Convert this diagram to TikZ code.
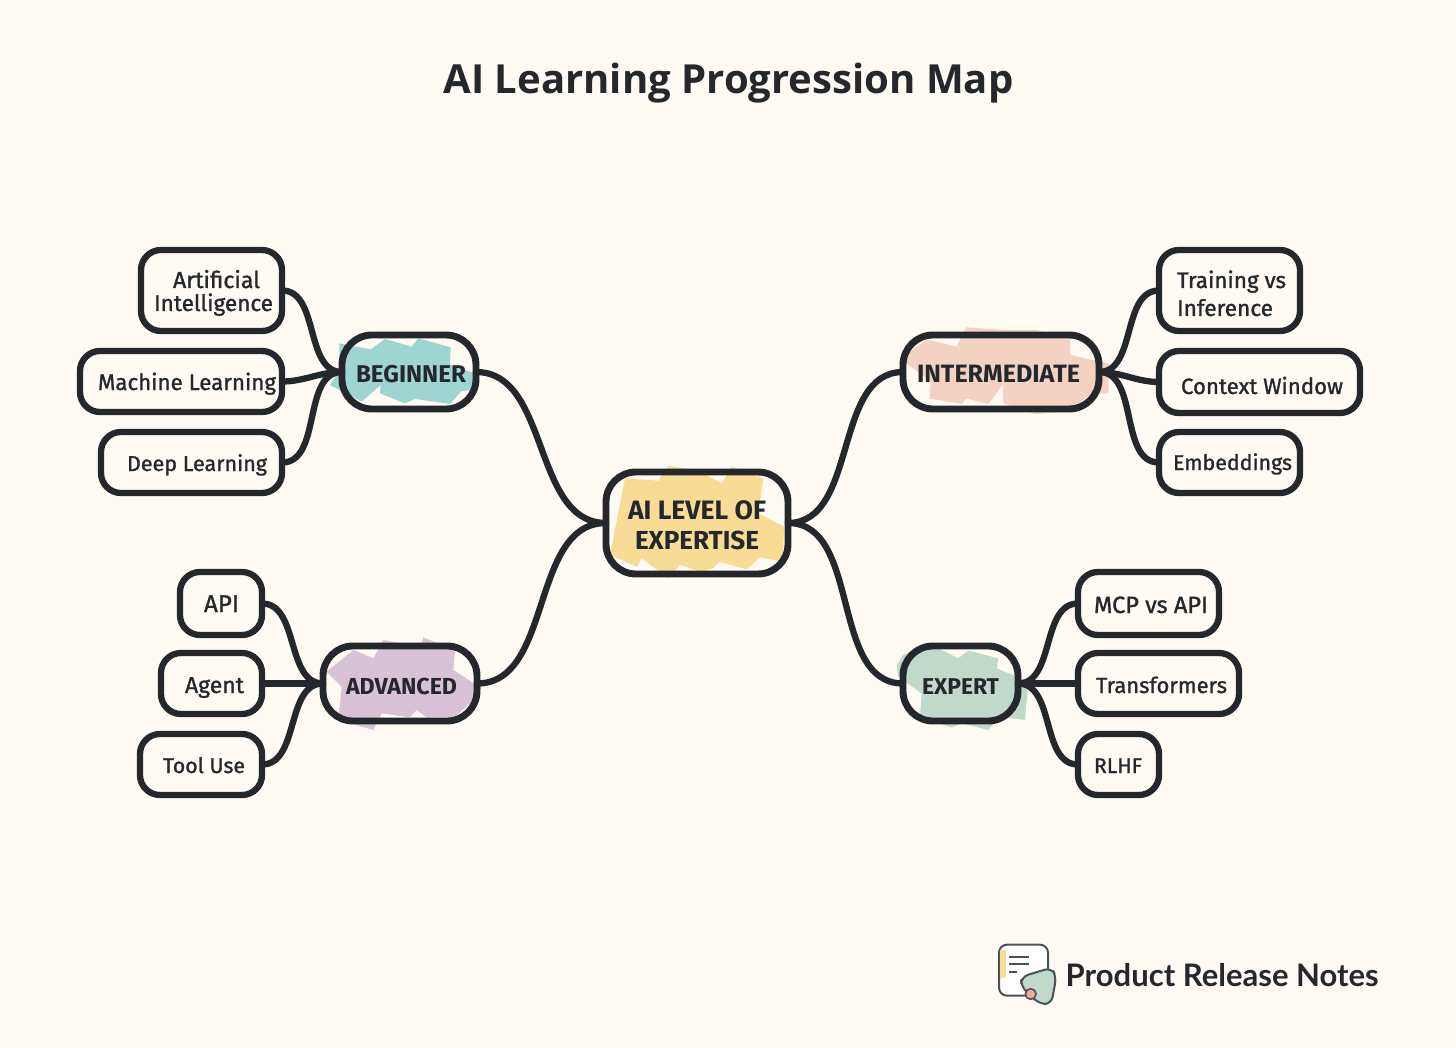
\documentclass[tikz,border=0pt]{standalone}
\usepackage{graphicx}
\usepackage{fontspec}
\setmainfont{Lato}
\newfontfamily\handfont[FakeBold=1.2]{Fira Sans}
\newfontfamily\headfont{Fira Sans}
\newfontfamily\titlefont{Open Sans}
\newfontfamily\brandfont{Lato}
\definecolor{pagebg}{HTML}{FFFBF4}
\definecolor{ink}{HTML}{24282D}
\definecolor{logoline}{HTML}{4B5158}
\definecolor{hlyellow}{HTML}{F8DB95}
\definecolor{hlteal}{HTML}{9ED5D1}
\definecolor{hlorange}{HTML}{F3D2C2}
\definecolor{hlpurple}{HTML}{D8C2D6}
\definecolor{hlgreen}{HTML}{BFD9CA}
\definecolor{logopink}{HTML}{F2A99A}
% dx, raise, width, text: one line placed inside its node
\newcommand\lbl[4]{\raisebox{\dimexpr #2pt-1pt\relax}[0pt][0pt]{\makebox[0pt][c]{\hspace*{\dimexpr 2\dimexpr #1pt\relax\relax}\resizebox{#3pt}{!}{#4}}}}
\tikzset{
  x=1pt,y=-1pt,
  boxbase/.style={draw=ink,fill=none,inner sep=0pt,outer sep=0pt,text=ink,
     minimum width=#1},
  leaf/.style={boxbase=#1,line width=6.3pt,rounded corners=20pt,font=\handfont\fontsize{20}{24}\selectfont},
  branch/.style={boxbase=#1,line width=6.9pt,rounded corners=30pt,font=\headfont\bfseries\fontsize{20}{24}\selectfont},
  link/.style={draw=ink,line width=6.3pt,line cap=round},
  curve/.style={out=#1,in=#1+180,looseness=0.95},
  hl/.style={fill=#1,draw=none},
  zoomed/.style n args={2}{shift={(#1,#2)},x=0.33333pt,y=-0.33333pt},
}
\begin{document}
\begin{tikzpicture}
\fill[pagebg] (0,0) rectangle (1456,1048);
\useasboundingbox (0,0) rectangle (1456,1048);

% highlights
\begin{scope}[zoomed={590}{450}]
\path[hl=hlyellow] (105,85)--(205,92)--(235,48)--(320,60)--(395,100)--(425,50)--(520,85)--(505,190)--(582,230)--(578,335)--(510,322)--(470,358)--(385,335)--(370,355)--(330,365)--(270,345)--(235,385)--(155,325)--(140,350)--(60,315)--cycle;
\end{scope}
\begin{scope}[zoomed={60}{230}]
\path[hl=hlteal] (838,340)--(932,358)--(975,327)--(1055,350)--(1075,325)--(1172,352)--(1170,405)--(1245,430)--(1240,480)--(1205,483)--(1170,522)--(1065,507)--(1035,520)--(960,490)--(962,465)--(905,515)--(810,465)--(838,420)--cycle;
\end{scope}
\begin{scope}[zoomed={890}{230}]
\path[hl=hlorange] (52,372)--(110,328)--(200,350)--(228,292)--(350,300)--(440,300)--(540,325)--(540,375)--(655,400)--(655,490)--(605,490)--(560,525)--(535,545)--(435,552)--(340,520)--(338,465)--(295,522)--(228,505)--(215,522)--(118,505)--(122,455)--(50,400)--(25,400)--cycle;
\end{scope}
\begin{scope}[zoomed={120}{560}]
\path[hl=hlpurple] (620,335)--(700,270)--(760,295)--(790,240)--(900,262)--(910,232)--(1005,270)--(1000,330)--(1085,385)--(1050,430)--(1005,470)--(920,472)--(890,450)--(870,472)--(785,460)--(760,510)--(655,480)--(665,380)--cycle;
\end{scope}
\begin{scope}[zoomed={890}{560}]
\path[hl=hlgreen] (20,315)--(40,285)--(115,250)--(205,295)--(235,272)--(325,295)--(320,325)--(415,365)--(405,480)--(330,470)--(295,510)--(215,490)--(185,503)--(90,470)--(95,400)--(25,350)--cycle;
\end{scope}

% title
\node (title) [anchor=base,text=ink,inner sep=0pt,font=\titlefont\bfseries\fontsize{36}{40}\selectfont] at (728.5,94) {\resizebox{570pt}{!}{AI Learning Progression Map}};

% nodes
\node (ai) [branch=182pt,minimum height=102pt] at (697,523) {\lbl{0}{5}{138}{AI LEVEL OF}\lbl{0}{-25}{124}{EXPERTISE}};

\node (beginner) [branch=134pt,minimum height=74pt] at (409,372) {\lbl{2}{-9}{110}{BEGINNER}};
\node (intermediate) [branch=196pt,minimum height=74pt] at (1001,372) {\lbl{-2.5}{-9}{163}{INTERMEDIATE}};
\node (advanced) [branch=154pt,minimum height=75pt] at (400,683.5) {\lbl{1.5}{-9.5}{111}{ADVANCED}};
\node (expert) [branch=115pt,minimum height=75pt] at (960.5,683.5) {\lbl{0}{-9.5}{77}{EXPERT}};

\node (artificial) [leaf=141pt,minimum height=81pt] at (211.5,290.5) {\lbl{5}{3.5}{87}{Artificial}\lbl{2}{-19.5}{119}{Intelligence}};
\node (machine) [leaf=202pt,minimum height=61pt] at (181,381.5) {\lbl{6}{-7.5}{178}{Machine Learning}};
\node (deep) [leaf=181pt,minimum height=61pt] at (191.5,462.5) {\lbl{5.5}{-7.5}{140}{Deep Learning}};

\node (training) [leaf=141pt,minimum height=81pt] at (1229.5,290.5) {\lbl{2}{3.5}{109}{Training vs}\lbl{-4.5}{-24.5}{96}{Inference}};
\node (context) [leaf=201pt,minimum height=62pt] at (1259.5,382) {\lbl{2.5}{-11}{162}{Context Window}};
\node (embeddings) [leaf=141pt,minimum height=61pt] at (1229.5,462.5) {\lbl{3}{-6.5}{119}{Embeddings}};

\node (api) [leaf=82pt,minimum height=63pt] at (221,603.5) {\lbl{0.5}{-7.5}{35}{API}};
\node (agent) [leaf=101pt,minimum height=61pt] at (211.5,683.5) {\lbl{3}{-8.5}{59}{Agent}};
\node (tooluse) [leaf=122pt,minimum height=61pt] at (201,764.5) {\lbl{3}{-7.5}{82}{Tool Use}};

\node (mcp) [leaf=141pt,minimum height=63pt] at (1148.5,603.5) {\lbl{2.5}{-8.5}{114}{MCP vs API}};
\node (transformers) [leaf=161pt,minimum height=61pt] at (1158.5,683.5) {\lbl{3}{-8.5}{131}{Transformers}};
\node (rlhf) [leaf=81pt,minimum height=61pt] at (1118.5,764.5) {\lbl{-0.5}{-7.5}{48}{RLHF}};

% connectors
\draw[link] (ai.west) to[curve=180] (beginner.east);
\draw[link] (ai.west) to[curve=180] (advanced.east);
\draw[link] (ai.east) to[curve=0] (intermediate.west);
\draw[link] (ai.east) to[curve=0] (expert.west);

\draw[link] (beginner.west) to[curve=180] (artificial.east);
\draw[link] (beginner.west) to[curve=180] (machine.east);
\draw[link] (beginner.west) to[curve=180] (deep.east);

\draw[link] (intermediate.east) to[curve=0] (training.west);
\draw[link] (intermediate.east) to[curve=0] (context.west);
\draw[link] (intermediate.east) to[curve=0] (embeddings.west);

\draw[link] (advanced.west) to[curve=180] (api.east);
\draw[link] (advanced.west) to[curve=180] (agent.east);
\draw[link] (advanced.west) to[curve=180] (tooluse.east);

\draw[link] (expert.east) to[curve=0] (mcp.west);
\draw[link] (expert.east) to[curve=0] (transformers.west);
\draw[link] (expert.east) to[curve=0] (rlhf.west);

% logo
\begin{scope}[zoomed={980}{930}]
\draw[logoline,line width=2pt,fill=white,rounded corners=8pt] (57,44) rectangle (204,197);
\fill[hlyellow] (60,60) -- (79,60) -- (79,143) -- (60,143) -- cycle;
\draw[logoline,line width=1.8pt] (88,80) -- (147,80) (88,102) -- (147,102) (88,125) -- (112,125);
\draw[logoline,line width=2pt,fill=hlgreen,rounded corners=7pt] (125,140) -- (214,113) -- (229,140) -- (214,222) -- (178,222) -- (122,168) -- cycle;
\draw[logoline,line width=1.6pt,fill=logopink] (152,192) circle[radius=16];
\end{scope}
\node (brand) [anchor=base west,text=ink,inner sep=0pt,font=\brandfont\bfseries\fontsize{32}{36}\selectfont] at (1065.5,986) {\resizebox{313pt}{!}{Product Release Notes}};
\end{tikzpicture}
\end{document}
